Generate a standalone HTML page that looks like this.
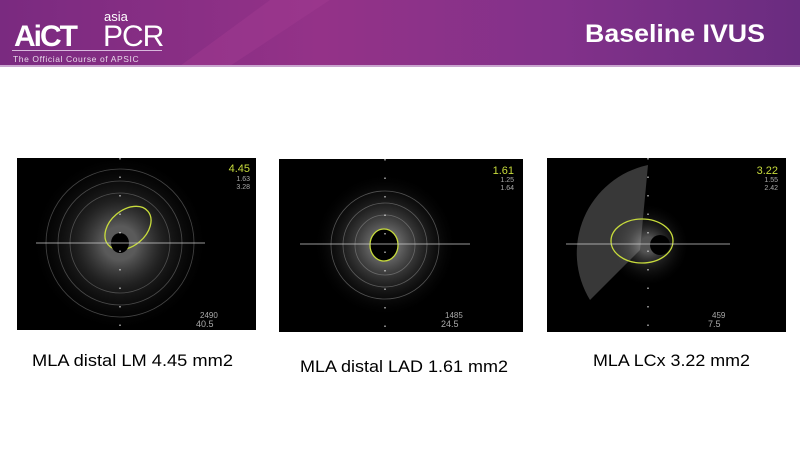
<!DOCTYPE html>
<html><head><meta charset="utf-8"><style>
body{margin:0;width:800px;height:450px;overflow:hidden;background:#fff;font-family:"Liberation Sans",sans-serif}
</style></head><body>
<svg width="800" height="450" xmlns="http://www.w3.org/2000/svg">
<defs>
<linearGradient id="hd" x1="0" y1="0" x2="1" y2="0">
<stop offset="0" stop-color="#7a2a80"/><stop offset="0.4" stop-color="#943288"/><stop offset="0.7" stop-color="#82318a"/><stop offset="1" stop-color="#6a2c80"/></linearGradient>
<radialGradient id="g1"><stop offset="0.2" stop-color="#ccc" stop-opacity="0.8"/><stop offset="0.5" stop-color="#777" stop-opacity="0.5"/><stop offset="1" stop-color="#222" stop-opacity="0"/></radialGradient>
<radialGradient id="g2"><stop offset="0.15" stop-color="#ddd" stop-opacity="0.8"/><stop offset="0.5" stop-color="#888" stop-opacity="0.5"/><stop offset="1" stop-color="#111" stop-opacity="0"/></radialGradient>
</defs>
<rect width="800" height="66" fill="url(#hd)"/>
<polygon points="180,66 270,0 330,0 230,66" fill="#a03a90" opacity="0.5"/>
<rect y="65" width="800" height="2" fill="#c9a6cf"/>
<text x="14" y="46" font-size="30" font-weight="bold" fill="#fff" letter-spacing="-2">AiCT</text>
<text x="104" y="21" font-size="13" fill="#fff">asia</text>
<text x="103" y="46" font-size="30" fill="#fff" letter-spacing="-1">PCR</text>
<rect x="12" y="50" width="150" height="1" fill="#d8b8dc"/>
<text x="13" y="62" font-size="8.5" fill="#e8d8ea" letter-spacing="0.6">The Official Course of APSIC</text>
<text x="585" y="42" font-size="25" font-weight="bold" fill="#fff" textLength="180" lengthAdjust="spacingAndGlyphs">Baseline IVUS</text>

<!-- panel 1 -->
<rect x="17" y="158" width="239" height="172" fill="#000"/>
<circle cx="120" cy="243" r="85" fill="url(#g1)" opacity="0.55"/>
<g fill="none" stroke="#888" stroke-width="0.8" opacity="0.5"><circle cx="120" cy="243" r="50"/><circle cx="120" cy="243" r="62"/><circle cx="120" cy="243" r="74"/></g>
<ellipse cx="128" cy="228" rx="26" ry="18" transform="rotate(-40 128 228)" fill="none" stroke="#c8dc3c" stroke-width="1.3"/>
<ellipse cx="120" cy="243" rx="9" ry="10" fill="#000"/>
<line x1="36" y1="243" x2="205" y2="243" stroke="#ccc" stroke-width="0.7"/>
<line x1="120" y1="158" x2="120" y2="330" stroke="#fff" stroke-width="1" stroke-dasharray="1.5 17"/>
<text x="250" y="172" font-size="11" fill="#c8dc3c" text-anchor="end">4.45</text>
<text x="250" y="181" font-size="7" fill="#aaa" text-anchor="end">1.63</text>
<text x="250" y="189" font-size="7" fill="#aaa" text-anchor="end">3.28</text>
<text x="200" y="318" font-size="8" fill="#aaa">2490</text>
<text x="196" y="327" font-size="9" fill="#aaa">40.5</text>

<!-- panel 2 -->
<rect x="279" y="159" width="244" height="173" fill="#000"/>
<circle cx="385" cy="245" r="70" fill="url(#g2)" opacity="0.65"/>
<g fill="none" stroke="#999" stroke-width="0.8" opacity="0.5"><circle cx="385" cy="245" r="30"/><circle cx="385" cy="245" r="42"/><circle cx="385" cy="245" r="54"/></g>
<ellipse cx="384" cy="245" rx="14" ry="16" fill="#000" stroke="#c8dc3c" stroke-width="1.3"/>
<line x1="300" y1="244" x2="470" y2="244" stroke="#ccc" stroke-width="0.7"/>
<line x1="385" y1="159" x2="385" y2="332" stroke="#fff" stroke-width="1" stroke-dasharray="1.5 17"/>
<text x="514" y="174" font-size="11" fill="#c8dc3c" text-anchor="end">1.61</text>
<text x="514" y="182" font-size="7" fill="#aaa" text-anchor="end">1.25</text>
<text x="514" y="190" font-size="7" fill="#aaa" text-anchor="end">1.64</text>
<text x="445" y="318" font-size="8" fill="#aaa">1485</text>
<text x="441" y="327" font-size="9" fill="#aaa">24.5</text>

<!-- panel 3 -->
<rect x="547" y="158" width="239" height="174" fill="#000"/>
<path d="M648,165 A90,90 0 0 0 590,300 L640,250 Z" fill="#666" opacity="0.55"/>
<circle cx="648" cy="245" r="40" fill="url(#g1)" opacity="0.5"/>
<ellipse cx="642" cy="241" rx="31" ry="22" fill="none" stroke="#c8dc3c" stroke-width="1.3"/>
<circle cx="660" cy="245" r="10" fill="#000"/>
<line x1="566" y1="244" x2="730" y2="244" stroke="#ccc" stroke-width="0.7"/>
<line x1="648" y1="158" x2="648" y2="332" stroke="#fff" stroke-width="1" stroke-dasharray="1.5 17"/>
<text x="778" y="174" font-size="11" fill="#c8dc3c" text-anchor="end">3.22</text>
<text x="778" y="182" font-size="7" fill="#aaa" text-anchor="end">1.55</text>
<text x="778" y="190" font-size="7" fill="#aaa" text-anchor="end">2.42</text>
<text x="712" y="318" font-size="8" fill="#aaa">459</text>
<text x="708" y="327" font-size="9" fill="#aaa">7.5</text>

<text x="32" y="366" font-size="17" fill="#000" textLength="201" lengthAdjust="spacingAndGlyphs">MLA distal LM 4.45 mm2</text>
<text x="300" y="372" font-size="17" fill="#000" textLength="208" lengthAdjust="spacingAndGlyphs">MLA distal LAD 1.61 mm2</text>
<text x="593" y="366" font-size="17" fill="#000" textLength="157" lengthAdjust="spacingAndGlyphs">MLA LCx 3.22 mm2</text>
</svg>
</body></html>
